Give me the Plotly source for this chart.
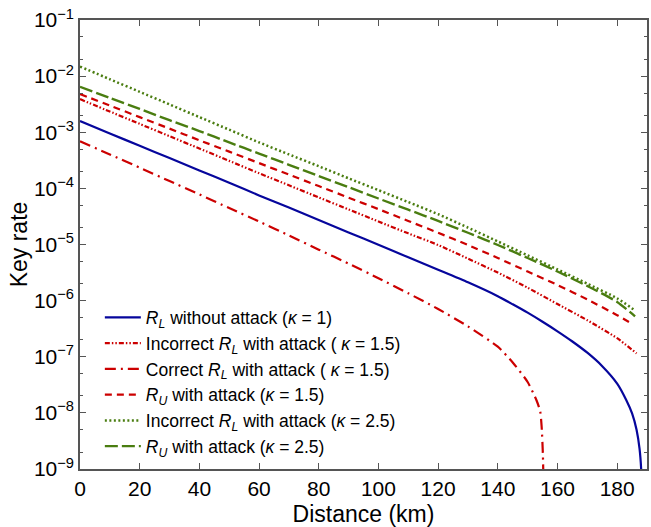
import plotly.graph_objects as go

# Distance grids (km)
d_main = [0, 10, 20, 30, 40, 50, 60, 70, 80, 90, 100, 110, 120, 130, 140, 150, 160, 170, 180]

# R_L without attack (kappa = 1)
d_rl1 = [0, 10, 20, 30, 40, 50, 60, 70, 80, 90, 100, 110, 120, 130, 140, 145, 150, 155, 160, 165,
         170, 175, 180, 183, 185, 186.5, 187.5, 188.1, 188.5]
rl1 = [1.58e-3, 9.5e-4, 5.75e-4, 3.47e-4, 2.09e-4, 1.26e-4, 7.5e-5, 4.55e-5, 2.73e-5, 1.64e-5,
       9.9e-6, 5.9e-6, 3.55e-6, 2.12e-6, 1.2e-6, 8.6e-7, 6.1e-7, 4.2e-7, 2.84e-7, 1.87e-7,
       1.18e-7, 6.8e-8, 3.33e-8, 1.72e-8, 9.8e-9, 5.0e-9, 2.3e-9, 8.7e-10, 1.1e-10]

# Incorrect R_L with attack (kappa = 1.5)
d_inc15 = d_main + [186.5]
inc15 = [3.89e-3, 2.34e-3, 1.41e-3, 8.5e-4, 5.13e-4, 3.09e-4, 1.86e-4, 1.135e-4, 6.9e-5, 4.22e-5,
         2.57e-5, 1.58e-5, 9.8e-6, 5.6e-6, 3.16e-6, 1.7e-6, 8.7e-7, 4.47e-7, 2.14e-7, 1.15e-7]

# Correct R_L with attack (kappa = 1.5)
d_cor15 = [0, 10, 20, 30, 40, 50, 60, 70, 80, 90, 100, 110, 120, 130, 140, 145, 150, 153, 154.2, 154.7, 155.1, 155.4]
cor15 = [6.9e-4, 4.03e-4, 2.34e-4, 1.35e-4, 7.8e-5, 4.47e-5, 2.57e-5, 1.45e-5, 8.1e-6, 4.57e-6,
         2.51e-6, 1.35e-6, 7.1e-7, 3.47e-7, 1.51e-7, 7.9e-8, 3.55e-8, 1.66e-8, 1.07e-8, 5.6e-9, 1.9e-9, 3.2e-10]

# R_U with attack (kappa = 1.5)
d_ru15 = d_main + [185.2]
ru15 = [4.79e-3, 2.99e-3, 1.86e-3, 1.16e-3, 7.2e-4, 4.52e-4, 2.82e-4, 1.76e-4, 1.1e-4, 6.84e-5,
        4.27e-5, 2.63e-5, 1.62e-5, 9.8e-6, 5.75e-6, 3.3e-6, 1.9e-6, 1.05e-6, 5.5e-7, 3.8e-7]

# Incorrect R_L with attack (kappa = 2.5)
d_inc25 = d_main + [186.1]
inc25 = [1.48e-2, 8.8e-3, 5.25e-3, 3.13e-3, 1.86e-3, 1.11e-3, 6.6e-4, 4.03e-4, 2.48e-4, 1.51e-4,
         9.3e-5, 5.7e-5, 3.47e-5, 2.0e-5, 1.135e-5, 6.4e-6, 3.6e-6, 2.0e-6, 1.1e-6, 6.6e-7]

# R_U with attack (kappa = 2.5)
d_ru25 = d_main + [186.0]
ru25 = [6.46e-3, 4.07e-3, 2.6e-3, 1.64e-3, 1.05e-3, 6.6e-4, 4.17e-4, 2.63e-4, 1.66e-4, 1.05e-4,
        6.6e-5, 4.17e-5, 2.63e-5, 1.62e-5, 9.8e-6, 5.75e-6, 3.3e-6, 1.82e-6, 9.5e-7, 5.25e-7]

x_ticks = [0, 20, 40, 60, 80, 100, 120, 140, 160, 180]
y_exps = [-1, -2, -3, -4, -5, -6, -7, -8, -9]

BLUE = "#06069c"
RED = "#cc0000"
GREEN = "#4a7d10"

kap = "<i>κ</i>"
RL = "<i>R</i><sub><i>L</i></sub>"
RU = "<i>R</i><sub><i>U</i></sub>"

series = [
    (d_rl1, rl1, f"{RL} without attack ({kap} = 1)", BLUE, "solid", 2.2),
    (d_inc15, inc15, f"Incorrect {RL} with attack ( {kap} = 1.5)", RED, "5px,2px,1.5px,2px,1.5px,2px", 2.2),
    (d_cor15, cor15, f"Correct {RL} with attack ( {kap} = 1.5)", RED, "11px,5px,2px,5px", 2.2),
    (d_ru15, ru15, f"{RU} with attack ({kap} = 1.5)", RED, "7px,5px", 2.2),
    (d_inc25, inc25, f"Incorrect {RL} with attack ({kap} = 2.5)", GREEN, "2px,2.5px", 2.5),
    (d_ru25, ru25, f"{RU} with attack ({kap} = 2.5)", GREEN, "13px,4px", 2.4),
]

fig = go.Figure()
for xs, ys, name, col, dash, w in series:
    fig.add_trace(go.Scatter(x=xs, y=ys, mode="lines", name=name,
                             line=dict(color=col, dash=dash, width=w, shape="spline", smoothing=0.6)))

FONT = "Liberation Sans, Arial, Helvetica, sans-serif"
AX = "#555555"

fig.update_layout(
    width=651, height=527,
    margin=dict(l=80, r=4, t=20, b=58, autoexpand=False),
    paper_bgcolor="white", plot_bgcolor="white",
    font=dict(family=FONT, size=21, color="black"),
    showlegend=True,
    legend=dict(x=0.035, y=0.3775, xanchor="left", yanchor="top",
                bgcolor="rgba(0,0,0,0)", font=dict(size=17.5, family=FONT),
                tracegroupgap=0, itemwidth=36),
    xaxis=dict(range=[0, 190], tickvals=x_ticks, ticktext=[str(v) for v in x_ticks],
               ticks="inside", ticklen=6, tickcolor=AX, showline=True, linecolor=AX, linewidth=1.5,
               mirror="ticks", showgrid=False, zeroline=False, automargin=False,
               tickfont=dict(size=21, family=FONT),
               title=dict(text="Distance (km)", font=dict(size=23, family=FONT), standoff=8)),
    yaxis=dict(type="log", range=[-9, -1],
               tickvals=[10.0 ** e for e in y_exps],
               ticktext=[f"10<sup>−{-e}</sup>" for e in y_exps],
               ticks="inside", ticklen=6, tickcolor=AX, showline=True, linecolor=AX, linewidth=1.5,
               mirror="ticks", showgrid=False, zeroline=False, automargin=False,
               tickfont=dict(size=21, family=FONT),
               minor=dict(ticks="inside", ticklen=3, tickcolor=AX, showgrid=False),
               title=dict(text="Key rate", font=dict(size=23, family=FONT), standoff=0)),
)

# remove the default 8px page margin so the figure fills the 651x527 window exactly
fig.write_html("out.html", config={"displayModeBar": False},
               post_script="document.body.style.margin='0';document.body.style.overflow='hidden';")
